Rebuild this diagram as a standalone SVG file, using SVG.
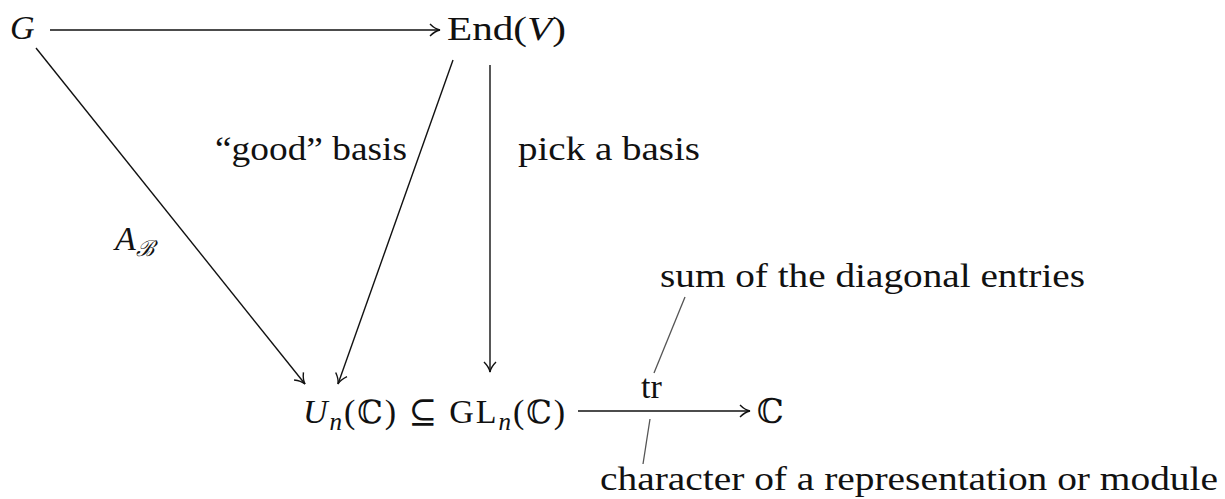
<svg xmlns="http://www.w3.org/2000/svg" width="1225" height="499" viewBox="0 0 1225 499">
<style>
text{font-family:"Liberation Serif","DejaVu Serif",serif;fill:#111;font-size:34px}
.it{font-style:italic}
.ds{font-family:"DejaVu Serif",serif}
.edge{stroke:#111;stroke-width:1.4;fill:none}
.note{stroke:#555;stroke-width:1.3;fill:none}
</style>
<defs>
<marker id="arr" viewBox="0 0 12 14" refX="11" refY="7" markerWidth="12" markerHeight="14" markerUnits="userSpaceOnUse" orient="auto">
<path d="M1,1 Q6,6 11,7 Q6,8 1,13" fill="none" stroke="#111" stroke-width="1.4"/>
</marker>
</defs>
<rect width="1225" height="499" fill="#fff"/>
<g id="nodeG"><text x="10" y="39" class="it">G</text></g>
<g id="nodeEnd"><text x="447" y="40" textLength="119" lengthAdjust="spacingAndGlyphs">End(<tspan class="it">V</tspan>)</text></g>
<g id="nodeBottom"><text x="303" y="423" font-size="36" textLength="262" lengthAdjust="spacing"><tspan class="it">U</tspan><tspan class="it" font-size="25" dy="7">n</tspan><tspan dy="-7">(</tspan><tspan class="ds" font-size="32">ℂ</tspan>) ⊆ GL<tspan class="it" font-size="25" dy="7">n</tspan><tspan dy="-7">(</tspan><tspan class="ds" font-size="32">ℂ</tspan>)</text></g>
<g id="nodeC"><text x="757" y="423" class="ds" font-size="32">ℂ</text></g>
<g id="connectors">
<line class="edge" x1="50" y1="30" x2="440" y2="30" marker-end="url(#arr)"/>
<line class="edge" x1="36" y1="48" x2="305" y2="384" marker-end="url(#arr)"/>
<line class="edge" x1="453" y1="60" x2="338" y2="384" marker-end="url(#arr)"/>
<line class="edge" x1="490" y1="65" x2="490" y2="372" marker-end="url(#arr)"/>
<line class="edge" x1="578" y1="411" x2="750" y2="411" marker-end="url(#arr)"/>
<line class="note" x1="685" y1="297" x2="654" y2="373"/>
<line class="note" x1="650" y1="419" x2="643" y2="464"/>
</g>
<g id="labels">
<text x="215" y="160" textLength="192" lengthAdjust="spacingAndGlyphs">“good” basis</text>
<text x="518" y="160" textLength="182" lengthAdjust="spacingAndGlyphs">pick a basis</text>
<text x="115" y="250" class="it">A<tspan font-size="22" dy="6" font-family="DejaVu Serif">ℬ</tspan></text>
<text x="641" y="398">tr</text>
<text x="660" y="287" textLength="425" lengthAdjust="spacingAndGlyphs">sum of the diagonal entries</text>
<text x="600" y="490" textLength="618" lengthAdjust="spacingAndGlyphs">character of a representation or module</text>
</g>
</svg>
